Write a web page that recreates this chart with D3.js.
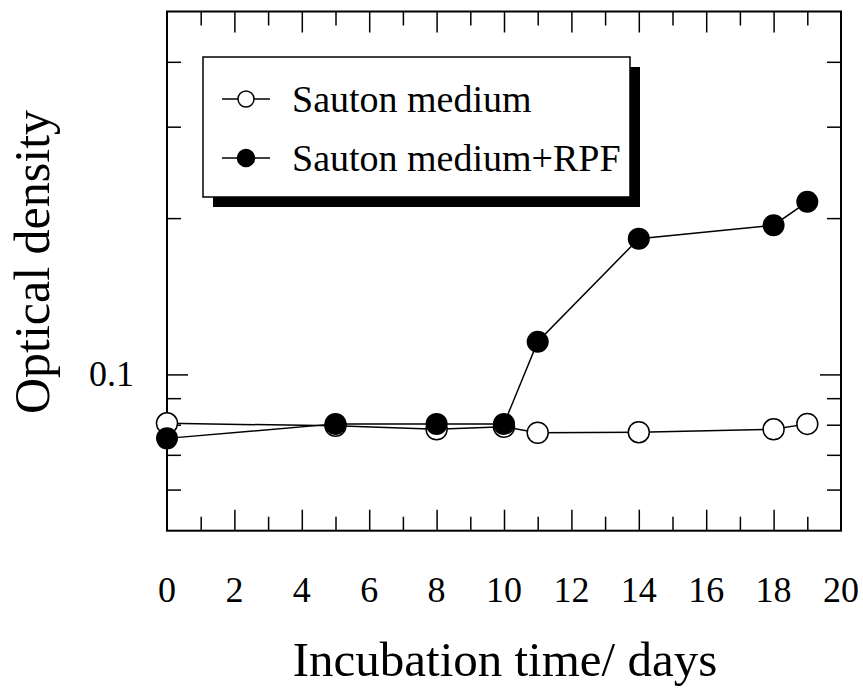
<!DOCTYPE html>
<html>
<head>
<meta charset="utf-8">
<script src="https://cdn.jsdelivr.net/npm/d3@7"></script>
<style>
  body { margin: 0; background: #fff; }
  text { font-family: "Liberation Serif", "Times New Roman", serif; fill: #000; }
</style>
</head>
<body>
<div id="container"></div>
<script>
// data
let daysOpen = [0, 5, 8, 10, 11, 14, 18, 19];
let sauton = [0.0805, 0.0796, 0.0784, 0.0793, 0.0772, 0.0774, 0.0784, 0.0803];
let daysFilled = [0, 5, 8, 10, 11, 14, 18, 19];
let sautonRpf = [0.0753, 0.0803, 0.0803, 0.0803, 0.1156, 0.1826, 0.1938, 0.215];
let xTickLabels = [0, 2, 4, 6, 8, 10, 12, 14, 16, 18, 20];
let yTicks = [0.06, 0.07, 0.08, 0.09, 0.1, 0.2, 0.3, 0.4];
let yLabels = [0.1];
let seriesNames = ["Sauton medium", "Sauton medium+RPF"];

let width = 863;
let height = 689;

let plotLeft = 167, plotRight = 841, plotTop = 11.5, plotBottom = 530.7;

let svg = d3.select("#container")
    .append("svg")
    .attr("width", width)
    .attr("height", height);

let x = d3.scaleLinear().domain([0, 20]).range([plotLeft, plotRight]);
let y = d3.scaleLog().domain([0.05, 0.5]).range([plotBottom, plotTop]);

//ticks, all pointing inward
let xDays = d3.range(1, 20);
let major = 21, minor = 14;

svg.append("g").attr("transform", `translate(0,${plotBottom})`)
    .call(d3.axisTop(x).tickValues(xDays).tickSizeInner(0).tickSizeOuter(0).tickFormat(""))
    .call(g => g.select(".domain").remove())
    .call(g => g.selectAll(".tick line").attr("y2", d => d % 2 == 0 ? -major : -minor)
        .attr("stroke", "#000").attr("stroke-width", 1.5));

svg.append("g").attr("transform", `translate(0,${plotTop})`)
    .call(d3.axisBottom(x).tickValues(xDays).tickSizeInner(0).tickSizeOuter(0).tickFormat(""))
    .call(g => g.select(".domain").remove())
    .call(g => g.selectAll(".tick line").attr("y2", d => d % 2 == 0 ? major : minor)
        .attr("stroke", "#000").attr("stroke-width", 1.5));

svg.append("g").attr("transform", `translate(${plotLeft},0)`)
    .call(d3.axisRight(y).tickValues(yTicks).tickSizeInner(0).tickSizeOuter(0).tickFormat(""))
    .call(g => g.select(".domain").remove())
    .call(g => g.selectAll(".tick line").attr("x2", d => d == 0.1 ? major : minor)
        .attr("stroke", "#000").attr("stroke-width", 1.5));

svg.append("g").attr("transform", `translate(${plotRight},0)`)
    .call(d3.axisLeft(y).tickValues(yTicks).tickSizeInner(0).tickSizeOuter(0).tickFormat(""))
    .call(g => g.select(".domain").remove())
    .call(g => g.selectAll(".tick line").attr("x2", d => d == 0.1 ? -major : -minor)
        .attr("stroke", "#000").attr("stroke-width", 1.5));

//frame
svg.append("rect")
    .attr("x", plotLeft).attr("y", plotTop)
    .attr("width", plotRight - plotLeft).attr("height", plotBottom - plotTop)
    .attr("fill", "none").attr("stroke", "#000").attr("stroke-width", 2);

//tick labels
svg.selectAll(".xlab")
    .data(xTickLabels)
    .enter()
    .append("text")
    .attr("x", d => x(d))
    .attr("y", 602)
    .attr("text-anchor", "middle")
    .style("font-size", "36px")
    .text(d => d);

svg.selectAll(".ylab")
    .data(yLabels)
    .enter()
    .append("text")
    .attr("x", 134)
    .attr("y", d => y(d) + 12)
    .attr("text-anchor", "end")
    .style("font-size", "36px")
    .text(d => d);

//axis titles
svg.append("text")
    .attr("x", 505)
    .attr("y", 676)
    .attr("text-anchor", "middle")
    .style("font-size", "49px")
    .text("Incubation time/ days");

svg.append("text")
    .attr("transform", "translate(49,262) rotate(-90)")
    .attr("text-anchor", "middle")
    .style("font-size", "50px")
    .text("Optical density");

//lines
let lineOpen = d3.line().x((d, i) => x(daysOpen[i])).y(d => y(d));
let lineFilled = d3.line().x((d, i) => x(daysFilled[i])).y(d => y(d));

svg.append("path").datum(sauton).attr("d", lineOpen)
    .attr("fill", "none").attr("stroke", "#000").attr("stroke-width", 1.5);
svg.append("path").datum(sautonRpf).attr("d", lineFilled)
    .attr("fill", "none").attr("stroke", "#000").attr("stroke-width", 1.5);

//points
svg.selectAll(".open")
    .data(sauton)
    .enter()
    .append("circle")
    .attr("cx", (d, i) => x(daysOpen[i]))
    .attr("cy", d => y(d))
    .attr("r", 10.5)
    .attr("fill", "white")
    .attr("stroke", "#000")
    .attr("stroke-width", 1.5);

svg.selectAll(".filled")
    .data(sautonRpf)
    .enter()
    .append("circle")
    .attr("cx", (d, i) => x(daysFilled[i]))
    .attr("cy", d => y(d))
    .attr("r", 11)
    .attr("fill", "#000");

//legend with drop shadow
let lg = svg.append("g");
lg.append("rect").attr("x", 213).attr("y", 67).attr("width", 427).attr("height", 140).attr("fill", "#000");
lg.append("rect").attr("x", 203).attr("y", 57).attr("width", 427).attr("height", 140)
    .attr("fill", "#fff").attr("stroke", "#000").attr("stroke-width", 1.5);

let rowY = [99, 158];
seriesNames.forEach((name, i) => {
    lg.append("line").attr("x1", 222).attr("x2", 270).attr("y1", rowY[i]).attr("y2", rowY[i])
        .attr("stroke", "#000").attr("stroke-width", 1.5);
    lg.append("circle").attr("cx", 246).attr("cy", rowY[i]).attr("r", i == 0 ? 8 : 8.5)
        .attr("fill", i == 0 ? "#fff" : "#000").attr("stroke", "#000").attr("stroke-width", 1.5);
    lg.append("text").attr("x", 292).attr("y", rowY[i] + 13)
        .style("font-size", "38px")
        .text(name);
});
</script>
</body>
</html>
